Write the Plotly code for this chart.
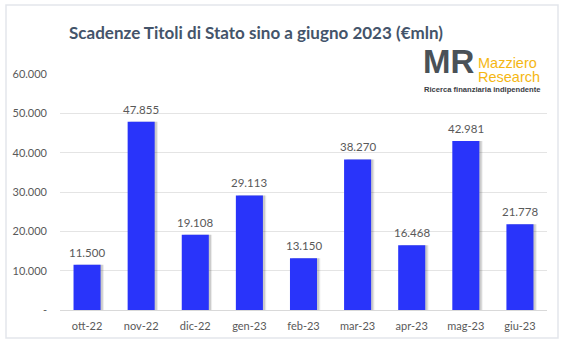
import plotly.graph_objects as go

# Monthly maturities of Italian government bonds (million euro)
months = ["ott-22", "nov-22", "dic-22", "gen-23", "feb-23",
          "mar-23", "apr-23", "mag-23", "giu-23"]
maturities = [11500, 47855, 19108, 29113, 13150, 38270, 16468, 42981, 21778]

y_ticks = [0, 10000, 20000, 30000, 40000, 50000, 60000]
y_ticktext = ["-", "10.000", "20.000", "30.000", "40.000", "50.000", "60.000"]

title_text = "Scadenze Titoli di Stato sino a giugno 2023 (€mln)"

FONT = "Lato"
GREY_TXT = "#595959"
BAR_BLUE = "#2934FA"

# plot area in pixels, used to place decorations in paper coordinates
W, H = 565, 345
L, R, T, B = 60, 18, 74, 35
PW, PH = W - L - R, H - T - B


def px(x):
    return (x - L) / PW


def py(y):
    return (H - B - y) / PH


fig = go.Figure()

# soft drop shadow to the right of each bar
for off, alpha in [(-0.19, 0.10), (-0.21, 0.18)]:
    fig.add_trace(go.Bar(
        x=months, y=maturities, width=0.5, offset=off,
        marker=dict(color=f"rgba(60,60,60,{alpha})", line=dict(width=0)),
        hoverinfo="skip", showlegend=False,
    ))

fig.add_trace(go.Bar(
    x=months, y=maturities, width=0.5, offset=-0.25,
    marker=dict(color=BAR_BLUE, line=dict(width=0)),
    showlegend=False,
))

# value labels above the bars
value_labels = [
    dict(x=m, y=v, text=f"{v:,}".replace(",", "."), xref="x", yref="y",
         xanchor="center", yanchor="bottom", yshift=4, showarrow=False,
         font=dict(family=FONT, size=11.5, color=GREY_TXT))
    for m, v in zip(months, maturities)
]

shapes = [
    # outer frame of the chart
    dict(type="rect", xref="paper", yref="paper",
         x0=px(6), x1=px(558), y0=py(338), y1=py(5),
         line=dict(color="#e3e6eb", width=1.5), fillcolor="rgba(0,0,0,0)",
         layer="below"),
    # white backing behind the logo
    dict(type="rect", xref="paper", yref="paper",
         x0=px(419), x1=px(548), y0=py(96), y1=py(47),
         line=dict(width=0), fillcolor="white", layer="above"),
]

logo = [
    dict(text="<b>MR</b>", xref="paper", yref="paper",
         x=px(421), y=py(62), xanchor="left", yanchor="middle",
         showarrow=False,
         font=dict(family="Liberation Sans", size=33, color="#4a5157")),
    dict(text="Mazziero", xref="paper", yref="paper",
         x=px(476), y=py(63), xanchor="left", yanchor="middle",
         showarrow=False,
         font=dict(family="Liberation Sans", size=14.5, color="#F5B713")),
    dict(text="Research", xref="paper", yref="paper",
         x=px(476), y=py(77.5), xanchor="left", yanchor="middle",
         showarrow=False,
         font=dict(family="Liberation Sans", size=14.5, color="#F5B713")),
    dict(text="<b>Ricerca finanziaria indipendente</b>", xref="paper",
         yref="paper", x=px(422), y=py(89.5), xanchor="left",
         yanchor="middle", showarrow=False,
         font=dict(family="Liberation Sans", size=7.6, color="#3b4045")),
]

fig.update_layout(
    width=W, height=H,
    margin=dict(l=L, r=R, t=T, b=B),
    paper_bgcolor="white", plot_bgcolor="white",
    barmode="overlay",
    separators=",.",
    title=dict(text=f"<b>{title_text}</b>", x=256 / W, xanchor="center",
               y=1 - 33 / H, yanchor="middle",
               font=dict(family=FONT, size=17, color="#44546A")),
    xaxis=dict(showline=True, linecolor="#d9d9d9", linewidth=1,
               showgrid=False, ticks="", ticklabelstandoff=6,
               tickfont=dict(family=FONT, size=11, color=GREY_TXT)),
    yaxis=dict(range=[0, 60000], tickvals=y_ticks, ticktext=y_ticktext,
               showgrid=True, gridcolor="#e4e4e4", gridwidth=1,
               zeroline=False, showline=False, ticks="",
               ticklabelstandoff=12,
               tickfont=dict(family=FONT, size=11, color=GREY_TXT)),
    shapes=shapes, annotations=value_labels + logo,
)

fig.write_html("out.html")
